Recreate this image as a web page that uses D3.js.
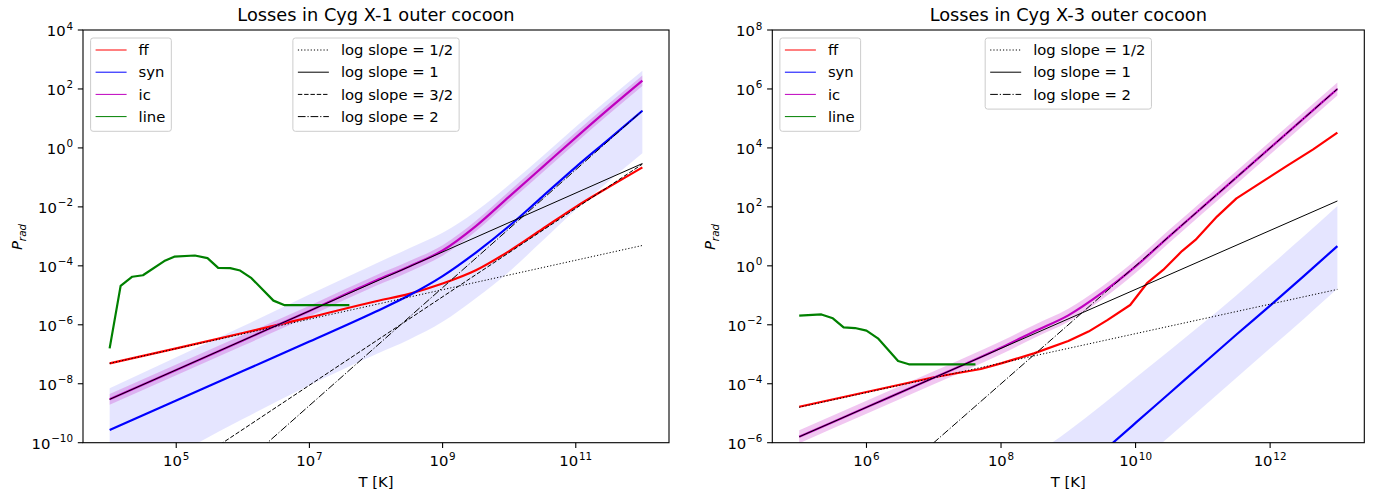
<!DOCTYPE html>
<html>
<head>
<meta charset="utf-8">
<script src="https://cdn.jsdelivr.net/npm/d3@7"></script>
<style>
  body { margin: 0; background: #fff; }
  svg { font-family: "DejaVu Sans", sans-serif; }
</style>
</head>
<body>
<div id="chart"></div>
<script>
// values are log10

// ---- Cyg X-1 ----
const x1LogT = [4, 5, 6, 7, 8, 8.5, 9, 9.5, 10, 10.5, 11, 11.5, 12];
const x1FF = [-7.31, -6.8, -6.28, -5.75, -5.2, -4.95, -4.6, -4.15, -3.5, -2.75, -2.0, -1.32, -0.66];
const x1Syn = [-9.57, -8.57, -7.57, -6.57, -5.55, -5.0, -4.35, -3.55, -2.65, -1.65, -0.65, 0.3, 1.26];
const x1IC = [-8.53, -7.53, -6.53, -5.53, -4.5, -4.02, -3.48, -2.65, -1.65, -0.65, 0.35, 1.33, 2.28];
const x1IcHi = [-8.35, -7.35, -6.35, -5.35, -4.32, -3.84, -3.3, -2.47, -1.47, -0.47, 0.53, 1.51, 2.46];
const x1IcLo = [-8.71, -7.71, -6.71, -5.71, -4.68, -4.2, -3.66, -2.83, -1.83, -0.83, 0.17, 1.15, 2.1];
const x1SynHi = [-8.15, -7.1, -6.05, -4.97, -3.92, -3.4, -2.88, -2.15, -1.25, -0.28, 0.72, 1.68, 2.62];
const x1SynLo = [-11.6, -10.4, -9.2, -8.05, -7.0, -6.5, -5.9, -5.1, -4.2, -3.15, -2.1, -1.12, -0.18];
const x1LineT = [4.0, 4.165, 4.34, 4.5, 4.82, 4.97, 5.28, 5.47, 5.63, 5.81, 5.96, 6.13, 6.46, 6.62, 7.6];
const x1LineP = [-6.8, -4.68, -4.37, -4.32, -3.84, -3.69, -3.65, -3.74, -4.07, -4.08, -4.16, -4.42, -5.18, -5.33, -5.33];
// reference lines: log P at T = 1e4 and at T = 1e12
const x1RefNames = ["log slope = 1/2", "log slope = 1", "log slope = 3/2", "log slope = 2"];
const x1RefP0 = [-7.31, -8.53, -12.55, -14.74];
const x1RefP1 = [-3.31, -0.53, -0.55, 1.26];
const x1RefDash = ["dotted", "solid", "dashed", "dashdot"];

// ---- Cyg X-3 ----
const x3LogT = [5, 6, 7, 8, 8.5, 9, 9.5, 10, 10.5, 11, 11.5, 12, 12.5, 13];
const x3IC = [-5.8, -4.8, -3.8, -2.78, -2.22, -1.68, -0.92, -0.02, 1.0, 2.0, 3.0, 4.0, 5.0, 6.0];
const x3IcHi = [-5.58, -4.58, -3.58, -2.56, -2.0, -1.46, -0.7, 0.2, 1.22, 2.22, 3.22, 4.22, 5.22, 6.22];
const x3IcLo = [-6.02, -5.02, -4.02, -3.0, -2.44, -1.9, -1.14, -0.24, 0.78, 1.78, 2.78, 3.78, 4.78, 5.78];
const x3FFT = [5, 6, 7, 7.7, 8.0, 8.49, 9.0, 9.3, 9.58, 9.92, 10.17, 10.41, 10.69, 10.89, 11.21, 11.5, 11.88, 12.25, 12.64, 13];
const x3FF = [-4.78, -4.28, -3.78, -3.5, -3.31, -2.97, -2.55, -2.23, -1.84, -1.33, -0.59, -0.14, 0.5, 0.88, 1.67, 2.29, 2.85, 3.39, 3.95, 4.52];
const x3SynT = [9.5, 10, 10.5, 11, 11.5, 12, 12.5, 13];
const x3Syn = [-6.33, -5.33, -4.33, -3.33, -2.33, -1.35, -0.35, 0.67];
const x3BandT = [8.5, 9, 9.5, 10, 10.5, 11, 11.5, 12, 12.5, 13];
const x3SynHi = [-6.4, -5.6, -4.72, -3.8, -2.88, -1.95, -1.0, 0.0, 1.0, 2.03];
const x3SynLo = [-9.8, -8.8, -7.8, -6.8, -5.8, -4.8, -3.8, -2.8, -1.8, -0.78];
const x3LineT = [5.0, 5.33, 5.5, 5.66, 5.83, 6.0, 6.17, 6.47, 6.63, 7.62];
const x3LineP = [-1.69, -1.65, -1.78, -2.09, -2.11, -2.2, -2.46, -3.23, -3.34, -3.34];
// reference lines: log P at T = 1e5 and at T = 1e13
const x3RefNames = ["log slope = 1/2", "log slope = 1", "log slope = 2"];
const x3RefP0 = [-4.8, -5.8, -10];
const x3RefP1 = [-0.8, 2.2, 6];
const x3RefDash = ["dotted", "solid", "dashdot"];

const curveNames = ["ff", "syn", "ic", "line"];
const curveColors = ["#ff0000", "#0000ff", "#bf00bf", "#008000"];

const W = 1377, H = 494;
const FS = 14.8;   // 10pt at this figure's dpi
const dashes = { dotted: "1.2,2", solid: null, dashed: "4.4,1.9", dashdot: "7.7,1.9,1.2,1.9" };

const svg = d3.select("#chart").append("svg")
    .attr("width", W).attr("height", H);

const pts = (ts, ps) => ts.map((t, i) => [Math.pow(10, t), Math.pow(10, ps[i])]);
const band = (ts, lo, hi) => ts.map((t, i) => [Math.pow(10, t), Math.pow(10, lo[i]), Math.pow(10, hi[i])]);

const smooth = d3.curveMonotoneX, straight = d3.curveLinear;

const panels = [
    {
        id: "p1", title: "Losses in Cyg X-1 outer cocoon",
        left: 83, right: 669, top: 30, bottom: 442.7, ylabelX: 22,
        xDom: [Math.pow(10, 3.6), Math.pow(10, 12.4)], yDom: [1e-10, 1e4],
        xTicks: [5, 7, 9, 11], yTicks: [4, 2, 0, -2, -4, -6, -8, -10],
        synBand: band(x1LogT, x1SynLo, x1SynHi),
        icBand: band(x1LogT, x1IcLo, x1IcHi),
        curves: [pts(x1LogT, x1FF), pts(x1LogT, x1Syn), pts(x1LogT, x1IC), pts(x1LineT, x1LineP)],
        curveTypes: [smooth, smooth, smooth, straight],
        refs: x1RefNames.map((n, i) => ({ name: n, dash: x1RefDash[i],
            d: [[1e4, Math.pow(10, x1RefP0[i])], [1e12, Math.pow(10, x1RefP1[i])]] }))
    },
    {
        id: "p3", title: "Losses in Cyg X-3 outer cocoon",
        left: 772.3, right: 1364.3, top: 30, bottom: 442.7, ylabelX: 715,
        xDom: [Math.pow(10, 4.6), Math.pow(10, 13.4)], yDom: [1e-6, 1e8],
        xTicks: [6, 8, 10, 12], yTicks: [8, 6, 4, 2, 0, -2, -4, -6],
        synBand: band(x3BandT, x3SynLo, x3SynHi),
        icBand: band(x3LogT, x3IcLo, x3IcHi),
        curves: [pts(x3FFT, x3FF), pts(x3SynT, x3Syn), pts(x3LogT, x3IC), pts(x3LineT, x3LineP)],
        curveTypes: [straight, smooth, smooth, straight],
        refs: x3RefNames.map((n, i) => ({ name: n, dash: x3RefDash[i],
            d: [[1e5, Math.pow(10, x3RefP0[i])], [1e13, Math.pow(10, x3RefP1[i])]] }))
    }
];

function powLabel(sel, exp, anchor) {
    sel.attr("text-anchor", anchor).attr("font-size", FS).attr("fill", "#000");
    sel.append("tspan").text("10");
    sel.append("tspan").attr("font-size", FS * 0.7).attr("dy", -6.5).attr("dx", 0.8)
        .text(exp < 0 ? "\u2212" + (-exp) : String(exp));
}

panels.forEach(p => {
    const x = d3.scaleLog().domain(p.xDom).range([p.left, p.right]);
    const y = d3.scaleLog().domain(p.yDom).range([p.bottom, p.top]);
    const cx = (p.left + p.right) / 2;

    svg.append("clipPath").attr("id", "clip-" + p.id)
        .append("rect")
        .attr("x", p.left).attr("y", p.top)
        .attr("width", p.right - p.left).attr("height", p.bottom - p.top);

    const g = svg.append("g").attr("clip-path", `url(#clip-${p.id})`);

    // uncertainty bands
    const area = d3.area().curve(smooth)
        .x(d => x(d[0])).y0(d => y(d[1])).y1(d => y(d[2]));
    g.append("path").attr("d", area(p.synBand))
        .attr("fill", "#0000ff").attr("fill-opacity", 0.1);
    g.append("path").attr("d", area(p.icBand))
        .attr("fill", "#bf00bf").attr("fill-opacity", 0.22);

    p.curves.forEach((c, i) => {
        const line = d3.line().curve(p.curveTypes[i]).x(d => x(d[0])).y(d => y(d[1]));
        g.append("path").attr("d", line(c))
            .attr("fill", "none")
            .attr("stroke", curveColors[i])
            .attr("stroke-width", 2.2)
            .attr("stroke-linejoin", "round");
    });

    const refLine = d3.line().x(d => x(d[0])).y(d => y(d[1]));
    p.refs.forEach(r => {
        g.append("path").attr("d", refLine(r.d))
            .attr("fill", "none")
            .attr("stroke", "#000")
            .attr("stroke-width", 1)
            .attr("stroke-dasharray", dashes[r.dash]);
    });

    // spines
    svg.append("rect")
        .attr("x", p.left).attr("y", p.top)
        .attr("width", p.right - p.left).attr("height", p.bottom - p.top)
        .attr("fill", "none").attr("stroke", "#000").attr("stroke-width", 1.1);

    // ticks
    p.xTicks.forEach(e => {
        const px = x(Math.pow(10, e));
        svg.append("line").attr("x1", px).attr("x2", px)
            .attr("y1", p.bottom).attr("y2", p.bottom + 5.2)
            .attr("stroke", "#000").attr("stroke-width", 1.1);
        svg.append("text").attr("x", px).attr("y", p.bottom + 23.5)
            .call(powLabel, e, "middle");
    });
    p.yTicks.forEach(e => {
        const py = y(Math.pow(10, e));
        svg.append("line").attr("x1", p.left - 5.2).attr("x2", p.left)
            .attr("y1", py).attr("y2", py)
            .attr("stroke", "#000").attr("stroke-width", 1.1);
        svg.append("text").attr("x", p.left - 10).attr("y", py + 6)
            .call(powLabel, e, "end");
    });

    // titles and axis labels
    svg.append("text").attr("x", cx).attr("y", 21)
        .attr("text-anchor", "middle").attr("font-size", FS * 1.2)
        .text(p.title);
    svg.append("text").attr("x", cx).attr("y", 487)
        .attr("text-anchor", "middle").attr("font-size", FS)
        .text("T [K]");
    const yl = svg.append("text")
        .attr("transform", `translate(${p.ylabelX},237) rotate(-90)`)
        .attr("text-anchor", "middle").attr("font-size", FS)
        .attr("font-style", "italic");
    yl.append("tspan").text("P");
    yl.append("tspan").attr("font-size", FS * 0.7).attr("dy", 3.5).text("rad");

    // legends
    function legend(items, boxLeft, centered) {
        const lg = svg.append("g");
        const bg = lg.append("rect");
        const texts = items.map((it, i) => {
            const yy = p.top + 20 + i * 22.2;
            lg.append("line")
                .attr("x1", 5).attr("x2", 36)
                .attr("y1", yy).attr("y2", yy)
                .attr("stroke", it.color).attr("stroke-width", 1)
                .attr("stroke-dasharray", dashes[it.dash] || null);
            return lg.append("text").attr("x", 48).attr("y", yy + 5.2)
                .attr("font-size", FS).text(it.name);
        });
        const tw = d3.max(texts, t => t.node().getComputedTextLength());
        const w = 48 + tw + 6;
        const h = items.length * 22.2 + 4.5;
        bg.attr("x", 0).attr("y", p.top + 8).attr("width", w).attr("height", h)
            .attr("rx", 2.5).attr("fill", "#fff").attr("fill-opacity", 0.8)
            .attr("stroke", "#cccccc").attr("stroke-width", 1);
        const lx = centered ? cx - w / 2 : boxLeft;
        lg.attr("transform", `translate(${lx},0)`);
    }

    legend(curveNames.map((n, i) => ({ name: n, color: curveColors[i] })), p.left + 7.6, false);
    legend(p.refs.map(r => ({ name: r.name, color: "#000", dash: r.dash })), 0, true);
});
</script>
</body>
</html>
